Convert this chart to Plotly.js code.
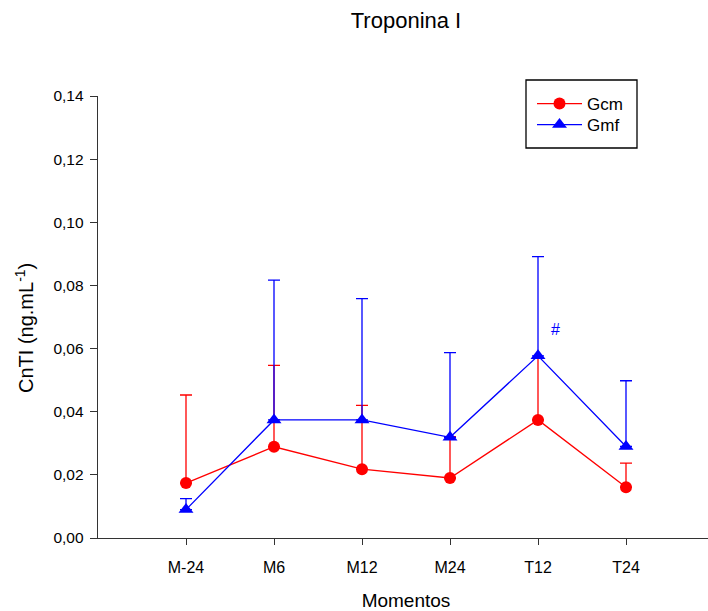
<!DOCTYPE html>
<html><head><meta charset="utf-8">
<script src="https://cdn.plot.ly/plotly-3.0.1.min.js"></script>
<style>html,body{margin:0;padding:0;overflow:hidden;background:#fff}</style>
</head><body><div id="chart" style="width:720px;height:611px"></div>
<script>
const categories = ['M-24','M6','M12','M24','T12','T24'];
const gcmMean = [0.0174,0.0289,0.0218,0.0190,0.0374,0.0161];
const gcmErr  = [0.0279,0.0258,0.0202,0.0131,0.0195,0.0076];
const gmfMean = [0.0090,0.0374,0.0374,0.0319,0.0577,0.0290];
const gmfErr  = [0.0035,0.0443,0.0384,0.0268,0.0314,0.0208];
const yTicks = [0,0.02,0.04,0.06,0.08,0.10,0.12,0.14];

const L = 98, PW = 616, T = 96, PH = 442;
const px2x = p => (p - L) / PW;
const py2y = p => (T + PH - p) / PH;

const zeros = categories.map(()=>0);
const traces = [
 {x:categories,y:gcmMean,name:'Gcm',type:'scatter',mode:'lines+markers',legend:'legend',
  line:{color:'#ff0000',width:1.3},marker:{symbol:'circle',size:12,color:'#ff0000'},
  error_y:{type:'data',array:gcmErr,arrayminus:zeros,symmetric:false,color:'#ff0000',thickness:1.3,width:6}},
 {x:categories,y:gmfMean,name:'Gmf',type:'scatter',mode:'lines+markers',legend:'legend2',
  line:{color:'#0000ff',width:1.3},marker:{symbol:'triangle-up',size:13,color:'#0000ff'},
  error_y:{type:'data',array:gmfErr,arrayminus:zeros,symmetric:false,color:'#0000ff',thickness:1.3,width:6}}
];
const legBase = {xanchor:'left',yanchor:'top',borderwidth:0,bgcolor:'rgba(0,0,0,0)',font:{size:17},itemwidth:45};
const layout = {
 width:720,height:611,
 margin:{l:L,r:720-L-PW,t:T,b:611-T-PH},
 separators:',.',
 font:{family:'Liberation Sans, Arial, sans-serif',color:'#000'},
 paper_bgcolor:'#fff',plot_bgcolor:'#fff',
 title:{text:'Troponina I',font:{size:22},x:0.5,xref:'paper',xanchor:'center',y:0.966,yanchor:'middle'},
 xaxis:{type:'category',range:[-1,6],showline:true,linecolor:'#333',linewidth:1.3,
  ticks:'outside',ticklen:6,tickcolor:'#333',tickfont:{size:16},ticklabelstandoff:8,
  showgrid:false,zeroline:false,
  title:{text:'Momentos',font:{size:19},standoff:22}},
 yaxis:{range:[0,0.14],tickvals:yTicks,tickformat:'.2f',showline:true,linecolor:'#333',linewidth:1.3,
  ticks:'outside',ticklen:7,tickcolor:'#333',tickfont:{size:15.5},ticklabelstandoff:3,
  showgrid:false,zeroline:false},
 legend:Object.assign({x:px2x(532),y:py2y(86)},legBase),
 legend2:Object.assign({x:px2x(532),y:py2y(107)},legBase),
 showlegend:true,
 shapes:[{type:'rect',xref:'paper',yref:'paper',x0:px2x(526),x1:px2x(637),y0:py2y(148),y1:py2y(80),
  line:{color:'#000',width:1.3},fillcolor:'rgba(0,0,0,0)'}],
 annotations:[
  {x:'T12',y:0.0661,text:'#',showarrow:false,xshift:17,font:{size:16,color:'#0000ff'}},
  {xref:'paper',yref:'paper',x:px2x(24),y:py2y(328),text:'CnTI (ng.mL<sup>-1</sup>)',textangle:-90,
   showarrow:false,xanchor:'center',yanchor:'middle',font:{size:20}}
 ]
};
Plotly.newPlot('chart',traces,layout,{displayModeBar:false,staticPlot:true});
</script></body></html>
